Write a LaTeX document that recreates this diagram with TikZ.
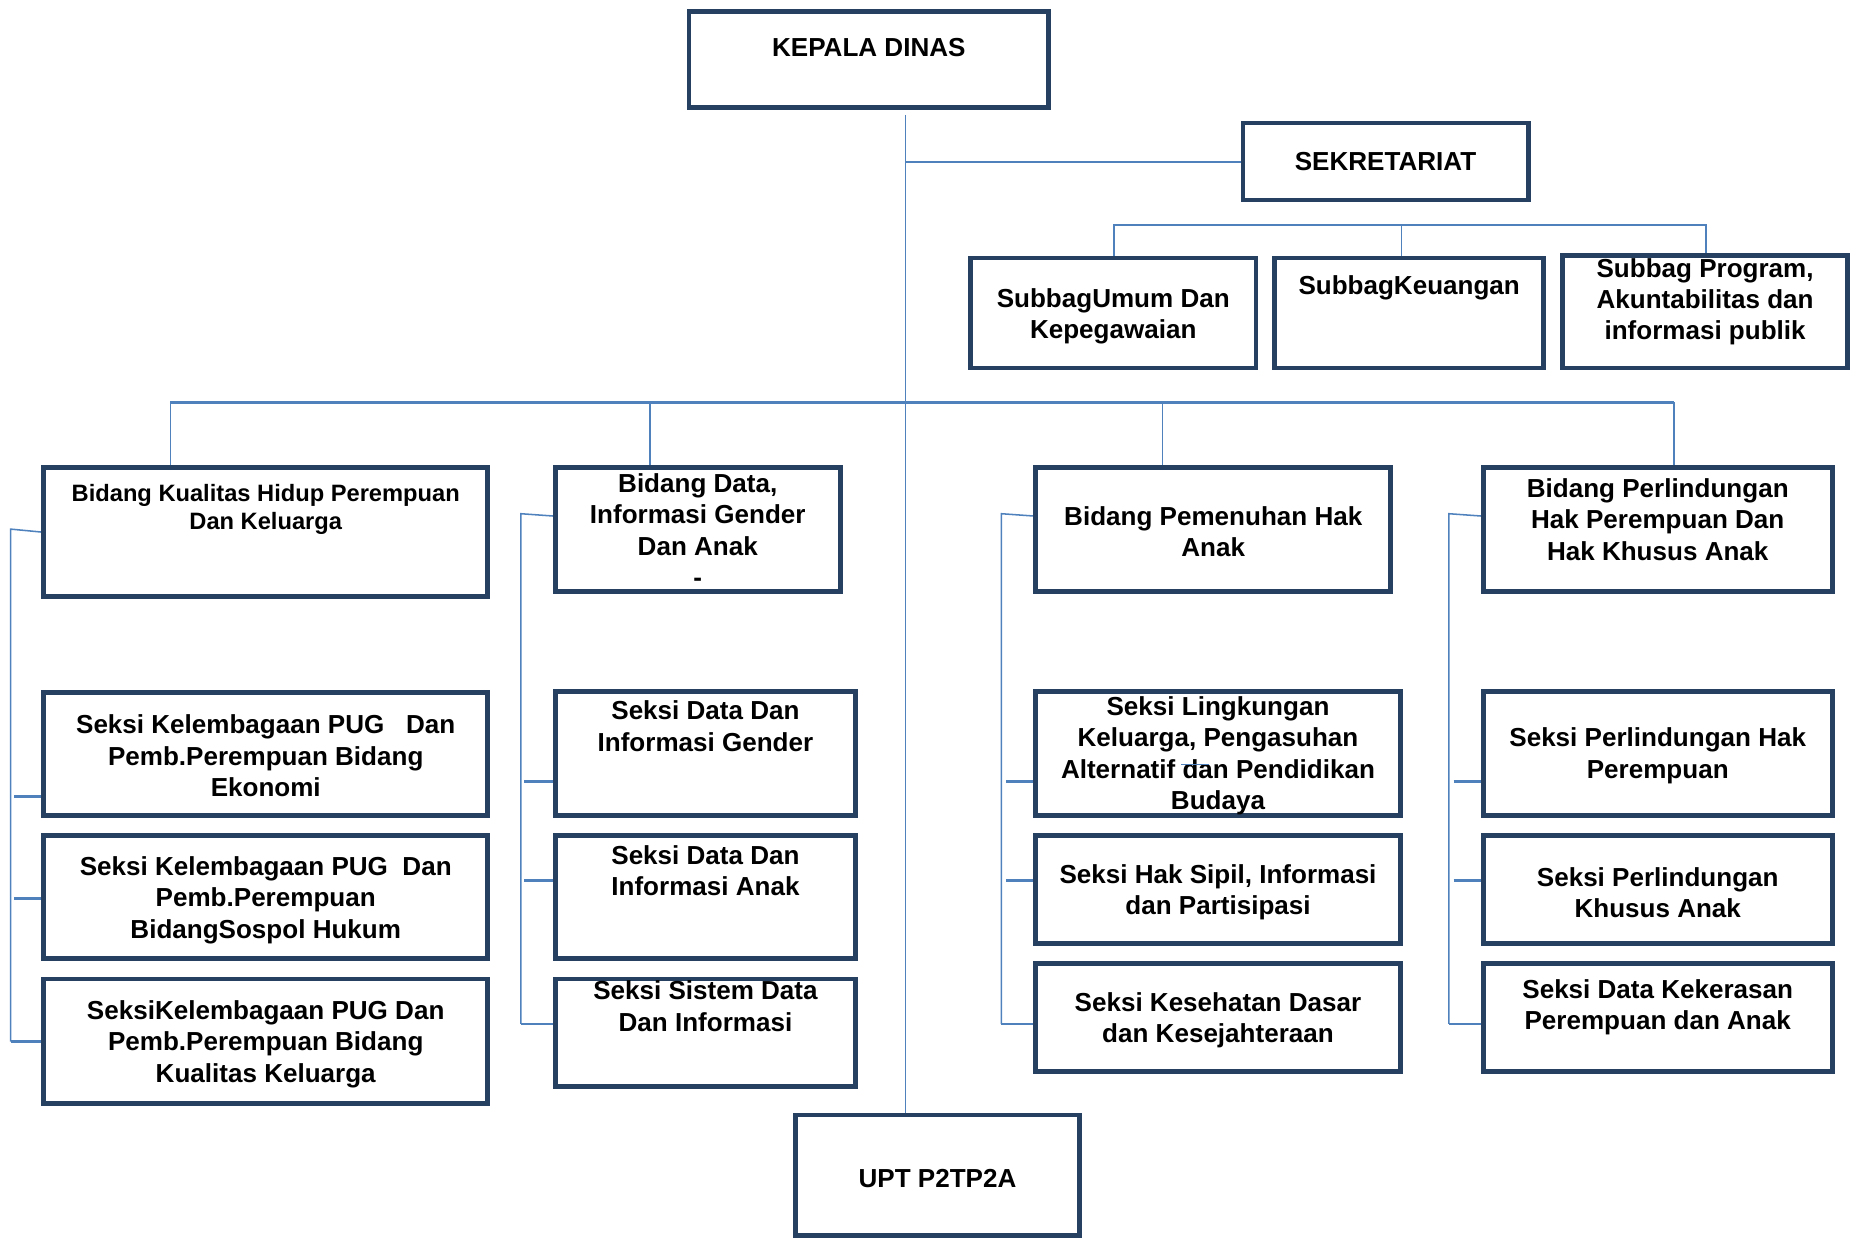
\documentclass[tikz,border=0pt]{standalone}
\usepackage{fontspec}
\setmainfont{Liberation Sans}
\usetikzlibrary{backgrounds}
\definecolor{boxc}{RGB}{37,64,97}
\definecolor{linec}{RGB}{79,129,189}
\begin{document}
\begin{tikzpicture}[x=1pt,y=-1pt,
  bx/.style 2 args={draw=boxc, line width=4pt, minimum width=#1pt-4pt, minimum height=#2pt-4pt, inner sep=0pt, fill=white},
  tx/.style={font=\fontsize{22}{26.5}\selectfont\bfseries, align=center, inner sep=0pt},
  conn/.style={draw=linec, line width=1.3pt},
  bus/.style={draw=linec, line width=1.8pt},
  stub/.style={draw=linec, line width=2.2pt},
]
\useasboundingbox (0,0) rectangle (1568,1048);
% boxes
\node[bx={308}{85}] (kd) at (734,50.5) {};
\node[tx] (kdt) at (734,40) {KEPALA DINAS};
\node[bx={245}{69}] (sek) at (1170.5,136.5) {};
\node[tx] (sekt) at (1170.5,136.5) {SEKRETARIAT};
\node[bx={245}{97}] (su1) at (940.5,264.5) {};
\node[tx] (su1t) at (940.5,267) {SubbagUmum Dan\\Kepegawaian};
\node[bx={231}{97}] (su2) at (1190.5,264.5) {};
\node[tx] (su2t) at (1190.5,243.5) {SubbagKeuangan};
\node[bx={245}{99}] (su3) at (1440.5,263.5) {};
\node[tx] (su3t) at (1440.5,255) {Subbag Program,\\Akuntabilitas dan\\informasi publik};

\node[bx={379}{113}] (bd1) at (224.5,449.5) {};
\node[tx, font=\fontsize{20}{24}\selectfont\bfseries] (bd1t) at (224.5,430.5) {Bidang Kualitas Hidup Perempuan\\Dan Keluarga};
\node[bx={245}{109}] (bd2) at (589.5,447.5) {};
\node[tx] (bd2t) at (589.5,447.75) {Bidang Data,\\Informasi Gender\\Dan Anak\\-};
\node[bx={304}{109}] (bd3) at (1025,447.5) {};
\node[tx] (bd3t) at (1025,449) {Bidang Pemenuhan Hak\\Anak};
\node[bx={299}{109}] (bd4) at (1400.5,447.5) {};
\node[tx] (bd4t) at (1400.5,439) {Bidang Perlindungan\\Hak Perempuan Dan\\Hak Khusus Anak};

\node[bx={379}{108}] (s11) at (224.5,637) {};
\node[tx] (s11t) at (224.5,638.5) {Seksi Kelembagaan PUG\ \ \ Dan\\Pemb.Perempuan Bidang\\Ekonomi};
\node[bx={379}{108}] (s12) at (224.5,758) {};
\node[tx] (s12t) at (224.5,760.5) {Seksi Kelembagaan PUG\ \ Dan\\Pemb.Perempuan\\BidangSospol Hukum};
\node[bx={379}{109}] (s13) at (224.5,879.5) {};
\node[tx] (s13t) at (224.5,882) {SeksiKelembagaan PUG Dan\\Pemb.Perempuan Bidang\\Kualitas Keluarga};

\node[bx={258}{109}] (s21) at (596,636.5) {};
\node[tx] (s21t) at (596,613.5) {Seksi Data Dan\\Informasi Gender};
\node[bx={258}{108}] (s22) at (596,758) {};
\node[tx] (s22t) at (596,735.5) {Seksi Data Dan\\Informasi Anak};
\node[bx={258}{95}] (s23) at (596,872.5) {};
\node[tx] (s23t) at (596,850) {Seksi Sistem Data\\Dan Informasi};

\node[bx={312}{109}] (s31) at (1029,636.5) {};
\node[tx] (s31t) at (1029,638.5) {Seksi Lingkungan\\Keluarga, Pengasuhan\\Alternatif dan Pendidikan\\Budaya};
\node[bx={312}{95}] (s32) at (1029,751.5) {};
\node[tx] (s32t) at (1029,754) {Seksi Hak Sipil, Informasi\\dan Partisipasi};
\node[bx={312}{95}] (s33) at (1029,859.5) {};
\node[tx] (s33t) at (1029,862) {Seksi Kesehatan Dasar\\dan Kesejahteraan};

\node[bx={299}{109}] (s41) at (1400.5,636.5) {};
\node[tx] (s41t) at (1400.5,638.5) {Seksi Perlindungan Hak\\Perempuan};
\node[bx={299}{95}] (s42) at (1400.5,751.5) {};
\node[tx] (s42t) at (1400.5,754) {Seksi Perlindungan\\Khusus Anak};
\node[bx={299}{95}] (s43) at (1400.5,859.5) {};
\node[tx] (s43t) at (1400.5,851) {Seksi Data Kekerasan\\Perempuan dan Anak};

\node[bx={244}{106}] (upt) at (792,993) {};
\node[tx] (uptt) at (792,995.5) {UPT P2TP2A};

% small dash over text
\coordinate (dA) at (998,646);
\coordinate (dB) at (1021,646);
\draw[conn] (dA) -- (dB);

\begin{pgfonlayer}{background}
% main spine
\coordinate (mtop) at (765,97);
\draw[conn] (mtop) -- (mtop |- upt.north);
\draw[bus] (mtop |- sek.west) -- (sek.west);
% sekretariat sub bus
\coordinate (sbL) at (941,190);
\coordinate (sbM) at (1184,190);
\coordinate (sbR) at (1441,190);
\draw[bus] (sbL |- su1.north) -- (sbL) -- (sbR) -- (sbR |- su3.north);
\draw[conn] (sbM) -- (sbM |- su2.north);
% bidang bus
\coordinate (b1) at (144,340);
\coordinate (b2) at (549,340);
\coordinate (b3) at (982,340);
\coordinate (b4) at (1414,340);
\draw[bus] (b1) -- (b4);
\draw[conn] (b1) -- (b1 |- bd1.north);
\draw[conn] (b2) -- (b2 |- bd2.north);
\draw[conn] (b3) -- (b3 |- bd3.north);
\draw[conn] (b4) -- (b4 |- bd4.north);
% group 1
\coordinate (g1t) at (9,447);
\coordinate (g1b) at (9,880);
\draw[conn] (bd1.west) -- (g1t) -- (g1b);
\coordinate (g1a) at (12,673);
\coordinate (g1c) at (12,759);
\draw[stub] (g1a) -- (g1a -| s11.west);
\draw[stub] (g1c) -- (g1c -| s12.west);
\draw[stub] (g1b) -- (g1b -| s13.west);
% group 2
\coordinate (g2t) at (440,434);
\coordinate (g2e) at (468,436);
\coordinate (g2b) at (440,865);
\draw[conn] (g2e) -- (g2t) -- (g2b);
\coordinate (g2a) at (443,660);
\coordinate (g2c) at (443,744);
\draw[stub] (g2a) -- (g2a -| s21.west);
\draw[stub] (g2c) -- (g2c -| s22.west);
\draw[stub] (g2b) -- (g2b -| s23.west);
% group 3
\coordinate (g3t) at (846,434);
\coordinate (g3e) at (874,436);
\coordinate (g3b) at (846,865);
\draw[conn] (g3e) -- (g3t) -- (g3b);
\coordinate (g3a) at (850,660);
\coordinate (g3c) at (850,744);
\draw[stub] (g3a) -- (g3a -| s31.west);
\draw[stub] (g3c) -- (g3c -| s32.west);
\draw[stub] (g3b) -- (g3b -| s33.west);
% group 4
\coordinate (g4t) at (1224,434);
\coordinate (g4e) at (1252,436);
\coordinate (g4b) at (1224,865);
\draw[conn] (g4e) -- (g4t) -- (g4b);
\coordinate (g4a) at (1228,660);
\coordinate (g4c) at (1228,744);
\draw[stub] (g4a) -- (g4a -| s41.west);
\draw[stub] (g4c) -- (g4c -| s42.west);
\draw[stub] (g4b) -- (g4b -| s43.west);
\end{pgfonlayer}
\end{tikzpicture}
\end{document}
